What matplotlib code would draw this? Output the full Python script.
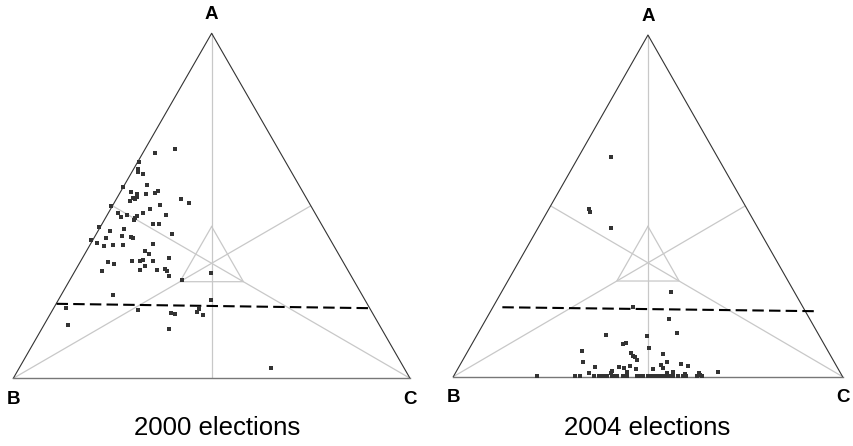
import numpy as np
import matplotlib
matplotlib.use('Agg')
import matplotlib.pyplot as plt

plt.rcParams['font.family'] = ['Liberation Sans', 'DejaVu Sans']

# ---------------------
# DATA (triangle units: B=(0,0), C=(100,0), A=(50,86.6))
# ---------------------
titles = ['2000 elections', '2004 elections']
corner_labels = ['A', 'B', 'C']

x_2000 = [40.7, 35.6, 31.8, 31.4, 31.4, 32.8, 33.6, 27.6, 29.7, 31.3, 33.5, 35.8, 36.5,
          29.4, 30.1, 30.6, 31.1, 42.2, 44.2, 37.0, 24.7, 34.5, 32.8, 38.5, 26.4, 27.1,
          28.7, 31.1, 30.8, 30.4, 35.3, 36.8, 21.7, 28.0, 24.5, 40.0, 27.3, 29.7, 30.2,
          23.4, 19.6, 21.2, 35.1, 25.1, 27.7, 22.9, 33.3, 34.1, 39.3, 23.9, 25.4, 29.9,
          31.9, 32.6, 35.1, 33.3, 22.4, 31.9, 36.1, 38.3, 38.7, 39.2, 49.8, 42.6, 25.1,
          49.8, 13.3, 31.4, 46.4, 46.9, 47.8, 39.8, 40.8, 13.8, 39.3, 64.9]
y_2000 = [57.5, 56.5, 54.3, 52.5, 51.9, 51.2, 48.6, 48.1, 46.8, 46.2, 46.2, 46.6, 47.0,
          44.5, 45.2, 44.9, 45.4, 45.1, 43.9, 43.5, 43.2, 42.4, 41.4, 41.0, 41.4, 40.5,
          41.0, 40.7, 40.2, 39.7, 38.8, 38.8, 38.0, 37.6, 37.1, 36.1, 35.7, 35.5, 35.3,
          35.3, 34.7, 33.9, 33.8, 33.4, 33.4, 33.1, 31.9, 31.3, 30.2, 29.2, 28.8, 29.4,
          29.4, 29.6, 29.4, 28.1, 27.0, 27.3, 27.3, 27.5, 26.9, 25.7, 26.4, 24.6, 21.0,
          19.7, 17.6, 17.2, 16.6, 17.4, 16.0, 16.4, 16.1, 13.4, 12.4, 2.5]

x_2004 = [40.5, 34.9, 35.1, 40.5, 55.9, 46.2, 55.5, 57.5, 39.1, 49.8, 43.5, 44.4, 50.3,
          33.0, 45.6, 46.2, 46.7, 47.1, 53.9, 33.4, 55.0, 36.3, 42.6, 43.8, 45.4, 46.9,
          51.2, 53.3, 53.9, 58.5, 60.2, 67.9, 34.8, 40.8, 40.4, 44.5, 54.8, 56.4, 59.4,
          63.0, 63.4,
          21.6, 31.3, 32.5, 36.1, 37.5, 38.1, 38.7, 39.6, 40.7, 41.3, 42.1, 43.5, 44.5,
          47.1, 48.0, 48.8, 49.9, 51.0, 51.8, 52.9, 53.5, 54.1, 54.8, 55.7, 56.5, 57.8,
          58.9, 59.8, 62.5, 63.8]
y_2004 = [55.6, 42.4, 41.7, 37.8, 21.5, 17.6, 14.6, 11.0, 10.6, 10.3, 8.2, 8.6, 7.2,
          6.6, 6.0, 5.2, 4.9, 4.2, 5.8, 3.8, 3.8, 2.5, 2.4, 2.2, 2.7, 2.0,
          2.0, 3.0, 2.2, 3.1, 2.6, 1.3, 1.0, 1.5, 0.9, 1.1, 1.0, 1.2, 0.7,
          0.9, 0.4,
          0.3, 0.3, 0.3, 0.3, 0.3, 0.3, 0.3, 0.3, 0.3, 0.3, 0.3, 0.3, 0.3,
          0.3, 0.3, 0.3, 0.3, 0.3, 0.3, 0.3, 0.3, 0.3, 0.3, 0.3, 0.3, 0.3,
          0.3, 0.3, 0.3, 0.3]

# dashed line end points (x0, y0, x1, y1)
dash_2000 = [10.9, 18.7, 90.1, 17.6]
dash_2004 = [12.6, 17.6, 93.1, 16.6]

# inner reference triangle: min / max share of each corner
inner_min, inner_max = 0.28, 0.44

H = 100 * np.sqrt(3) / 2


def to_xy(a, b, c):
    # ternary shares -> cartesian (triangle units)
    return 100 * (c + a / 2), H * a


def draw_ternary(ax, xs, ys, dash):
    ax.set_xlim(0, 100)
    ax.set_ylim(0, H)
    ax.axis('off')
    A = to_xy(1, 0, 0)
    B = to_xy(0, 1, 0)
    C = to_xy(0, 0, 1)
    # medians
    for P, Q in [(A, (50, 0)), (B, ((A[0] + C[0]) / 2, (A[1] + C[1]) / 2)),
                 (C, ((A[0] + B[0]) / 2, (A[1] + B[1]) / 2))]:
        ax.plot([P[0], Q[0]], [P[1], Q[1]], color='#c8c8c8', lw=0.9,
                solid_capstyle='butt', clip_on=False, zorder=1)
    # inner triangle
    iv = [to_xy(inner_max, inner_min, inner_min), to_xy(inner_min, inner_max, inner_min),
          to_xy(inner_min, inner_min, inner_max)]
    iv.append(iv[0])
    ax.plot([p[0] for p in iv], [p[1] for p in iv], color='#c8c8c8', lw=0.9,
            clip_on=False, zorder=1)
    # outer triangle
    ax.plot([B[0], A[0], C[0]], [B[1], A[1], C[1]], color='#333333', lw=0.8,
            clip_on=False, zorder=2)
    ax.plot([B[0], C[0]], [B[1], C[1]], color='#777777', lw=1.0,
            clip_on=False, zorder=2)
    # dashed line
    ax.plot([dash[0], dash[2]], [dash[1], dash[3]], color='black', lw=1.5,
            ls=(0, (5.5, 2.5)), clip_on=False, zorder=3)
    # points
    ax.scatter(xs, ys, marker='s', s=6, color='#333333', linewidths=0,
               clip_on=False, zorder=4)
    # corner labels
    ax.text(A[0], A[1] + 4.8, corner_labels[0], ha='center', va='center',
            fontsize=13.5, fontweight='bold')
    ax.text(B[0], B[1] - 5.2, corner_labels[1], ha='center', va='center',
            fontsize=13.5, fontweight='bold')
    ax.text(C[0], C[1] - 5.2, corner_labels[2], ha='center', va='center',
            fontsize=13.5, fontweight='bold')


fig = plt.figure(figsize=(8.54, 4.46), dpi=100)

ax1 = fig.add_axes([13.3 / 854, (446 - 378.3) / 446, 396.7 / 854, 345 / 446])
ax2 = fig.add_axes([453.3 / 854, (446 - 376.7) / 446, 389.3 / 854, 341.7 / 446])

draw_ternary(ax1, x_2000, y_2000, dash_2000)
draw_ternary(ax2, x_2004, y_2004, dash_2004)

fig.text(217 / 854, 1 - 428 / 446, titles[0], ha='center', va='center', fontsize=18.5)
fig.text(647 / 854, 1 - 428 / 446, titles[1], ha='center', va='center', fontsize=18.5)

fig.savefig('out.png', dpi=100)
